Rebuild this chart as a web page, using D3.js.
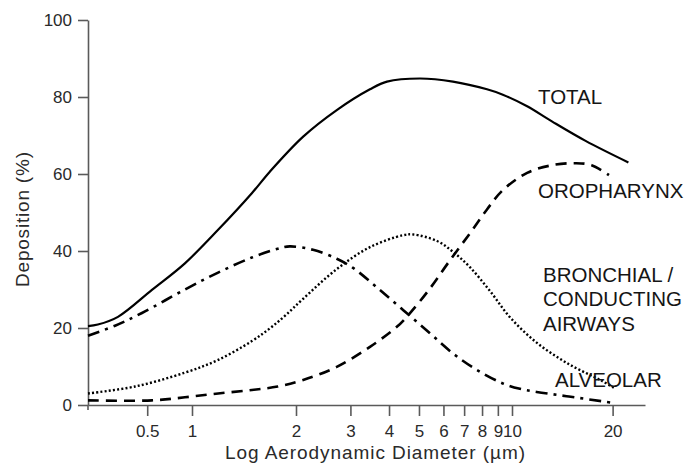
<!DOCTYPE html>
<html>
<head>
<meta charset="utf-8">
<script src="https://cdn.jsdelivr.net/npm/d3@7"></script>
<style>
  html, body { margin: 0; padding: 0; background: #fff; }
  svg { display: block; font-family: "Liberation Sans", Arial, sans-serif; }
</style>
</head>
<body>
<svg id="chart" width="692" height="470"></svg>
<script>
// ---- data (diameter in µm, deposition in %) ----
const xTickValues = [0.5, 1, 2, 3, 4, 5, 6, 7, 8, 9, 10, 20];
const yTickValues = [0, 20, 40, 60, 80, 100];

const totalD = [0.2, 0.233, 0.318, 0.538, 0.896, 1.19, 1.49, 1.68, 2.11, 2.71, 3.47, 3.94, 5.04, 6.44, 8.30, 9.34, 11.1, 13.2, 16.6, 22.3];
const totalV = [20.5, 20.9, 22.9, 29.9, 36.8, 45.5, 55.0, 60.6, 69.7, 76.6, 82.0, 84.0, 84.8, 84.0, 82.0, 80.6, 77.6, 73.6, 68.6, 63.0];

const oroD = [0.2, 0.538, 0.896, 1.19, 1.49, 1.77, 2.11, 2.71, 3.47, 4.24, 4.67, 5.43, 6.30, 7.31, 8.30, 9.34, 11.1, 13.2, 15.55, 17.3, 19.5];
const oroV = [1.2, 1.2, 2.0, 3.0, 3.9, 4.8, 6.5, 9.9, 15.1, 20.3, 23.8, 30.3, 37.6, 44.6, 50.8, 55.8, 60.3, 62.3, 62.8, 62.3, 59.7];

const bronchD = [0.2, 0.414, 0.896, 1.19, 1.49, 1.68, 1.86, 2.11, 2.71, 3.47, 4.44, 4.79, 5.72, 6.44, 7.31, 8.49, 9.85, 11.85, 14.8, 18.55, 20.4];
const bronchV = [3.0, 4.8, 8.4, 11.7, 16.6, 19.9, 23.2, 27.6, 35.3, 41.0, 44.1, 44.3, 42.6, 39.8, 35.8, 29.6, 22.8, 16.2, 10.6, 6.3, 4.2];

const alvD = [0.2, 0.304, 0.461, 0.896, 1.19, 1.49, 1.77, 1.92, 2.27, 2.71, 3.06, 3.66, 4.44, 5.43, 6.44, 7.70, 9.34, 10.56, 11.85, 14.8, 19.9];
const alvV = [18.0, 20.6, 23.9, 30.0, 34.4, 38.3, 40.6, 41.2, 40.3, 38.0, 35.6, 30.5, 24.7, 18.6, 13.4, 9.1, 5.6, 4.2, 3.4, 2.2, 0.6];

// ---- layout ----
const svg = d3.select("#chart");
// hand-drawn log axis: piecewise log scale
const x = d3.scaleLog().domain([0.2, 1, 2, 10, 25]).range([88, 192, 296, 512, 645]);
const y = d3.scaleLinear().domain([0, 100]).range([405, 20]);

const axisColor = "#5a5a5a";
const textColor = "#2a2a2a";

// x axis
const gx = svg.append("g").attr("transform", `translate(0,${y(0)})`)
  .call(d3.axisBottom(x).tickValues(xTickValues).tickFormat(d => String(d))
    .tickSize(11).tickSizeOuter(0).tickPadding(9));
// y axis
const gy = svg.append("g").attr("transform", `translate(${x(0.2)},0)`)
  .call(d3.axisLeft(y).tickValues(yTickValues).tickSize(10).tickSizeOuter(0).tickPadding(6));

[gx, gy].forEach(g => {
  g.select(".domain").attr("stroke", axisColor).attr("stroke-width", 1.6);
  g.selectAll(".tick line").attr("stroke", axisColor).attr("stroke-width", 1.6);
  g.selectAll(".tick text").attr("fill", textColor).style("font-size", "17px")
    .style("font-family", '"Liberation Sans", Arial, sans-serif');
});
// small extension of y axis below origin
gy.append("line").attr("x1", 0).attr("x2", 0).attr("y1", y(0)).attr("y2", y(0) + 5)
  .attr("stroke", axisColor).attr("stroke-width", 1.6);

// axis titles
svg.append("text")
  .attr("x", 225).attr("y", 459)
  .attr("textLength", 300).attr("lengthAdjust", "spacing")
  .attr("fill", textColor).style("font-size", "19px")
  .text("Log Aerodynamic Diameter (µm)");

svg.append("text")
  .attr("transform", "translate(28.5,287) rotate(-90)")
  .attr("textLength", 135).attr("lengthAdjust", "spacing")
  .attr("fill", textColor).style("font-size", "19px")
  .text("Deposition (%)");

// ---- curves ----
const line = d3.line().x(d => x(d[0])).y(d => y(d[1])).curve(d3.curveCatmullRom.alpha(0.5));
const zip = (a, b) => a.map((v, i) => [v, b[i]]);

const curves = [
  { data: zip(totalD, totalV), dash: null, w: 2.2 },
  { data: zip(oroD, oroV), dash: "11,7", w: 2.6 },
  { data: zip(bronchD, bronchV), dash: "2,2.2", w: 2.4 },
  { data: zip(alvD, alvV), dash: "12,6,3,6", w: 2.6 }
];
curves.forEach(c => {
  svg.append("path").datum(c.data)
    .attr("d", line)
    .attr("fill", "none")
    .attr("stroke", "#000")
    .attr("stroke-width", c.w)
    .attr("stroke-dasharray", c.dash);
});

// ---- curve labels ----
const labelRows = [
  { t: "TOTAL", x: 538, y: 104 },
  { t: "OROPHARYNX", x: 538, y: 198 },
  { t: "BRONCHIAL /", x: 543, y: 282 },
  { t: "CONDUCTING", x: 543, y: 306 },
  { t: "AIRWAYS", x: 543, y: 331 },
  { t: "ALVEOLAR", x: 555, y: 387 }
];
svg.append("g").selectAll("text").data(labelRows).join("text")
  .attr("x", d => d.x).attr("y", d => d.y)
  .attr("fill", "#151515")
  .style("font-size", "20.5px")
  .text(d => d.t);
</script>
</body>
</html>
